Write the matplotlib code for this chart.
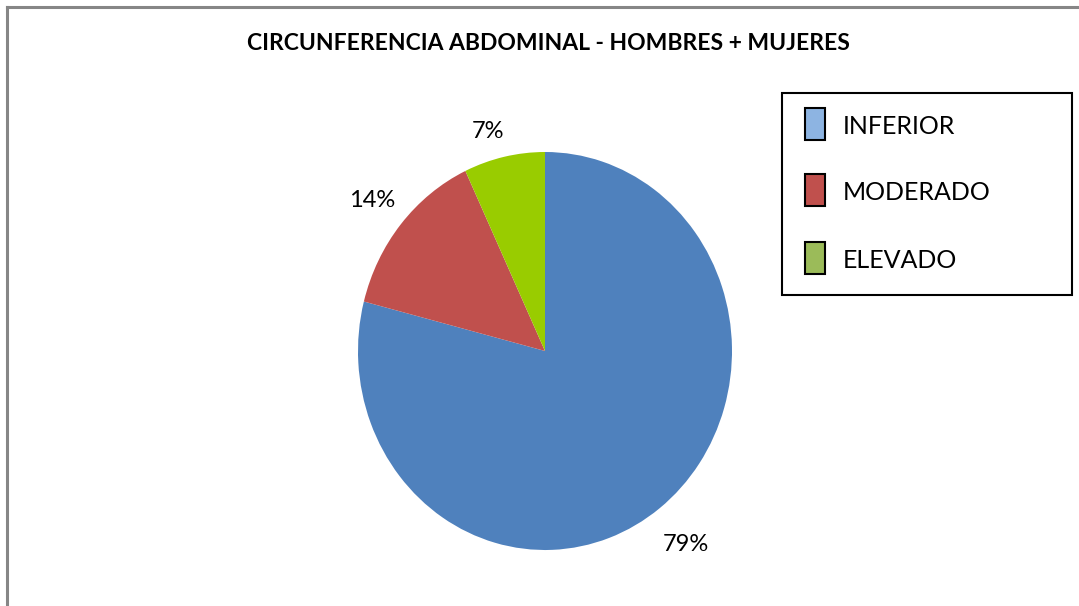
import numpy as np
import matplotlib.pyplot as plt
from matplotlib.patches import Rectangle
from matplotlib.lines import Line2D

# data
categorias = ['INFERIOR', 'MODERADO', 'ELEVADO']
porcentajes = [79, 14, 7]
colores_pie = ['#4F81BD', '#C0504D', '#99CC00']
colores_leyenda = ['#8DB4E2', '#C0504D', '#9BBB59']
titulo = 'CIRCUNFERENCIA ABDOMINAL - HOMBRES + MUJERES'

plt.rcParams['font.family'] = ['Lato', 'DejaVu Sans']

W, H = 1079, 606
fig = plt.figure(figsize=(W / 100, H / 100), dpi=100)
fig.patch.set_facecolor('white')

# pie axes (pixel box of the pie, slightly elliptical like the original)
px0, px1, py0, py1 = 358, 732, 152, 550
ax = fig.add_axes([px0 / W, (H - py1) / H, (px1 - px0) / W, (py1 - py0) / H])
wedges, textos, pcts = ax.pie(porcentajes, colors=colores_pie, startangle=90,
                              counterclock=False, autopct='%1.0f%%',
                              pctdistance=1.2, wedgeprops=dict(linewidth=0),
                              textprops=dict(fontsize=17, color='black'))
# put the % labels roughly where excel places them
radios = [1.23, 1.19, 1.13]
desp_x = [0.0, -0.01, -0.06]
for w, t, r, dx in zip(wedges, pcts, radios, desp_x):
    ang = np.deg2rad((w.theta1 + w.theta2) / 2)
    t.set_position((r * np.cos(ang) + dx, r * np.sin(ang)))
ax.set_aspect('auto')
ax.set_xlim(-1, 1)
ax.set_ylim(-1, 1)
ax.axis('off')

# title
fig.text(548 / W, 1 - 43 / H, titulo, ha='center', va='center',
         fontsize=16.5, fontweight='bold')

# outer frame (only left and top visible)
fig.add_artist(Line2D([7 / W, 7 / W], [0, 1 - 7 / H], color='#868686', lw=2.2))
fig.add_artist(Line2D([7 / W, 1], [1 - 7 / H, 1 - 7 / H], color='#868686', lw=2.2))

# legend box
lx0, ly0, lx1, ly1 = 782, 93, 1072, 295
fig.add_artist(Rectangle((lx0 / W, 1 - ly1 / H), (lx1 - lx0) / W, (ly1 - ly0) / H,
                         facecolor='white', edgecolor='black', lw=1.5))
filas = [124, 190, 258]
for nombre, color, yc in zip(categorias, colores_leyenda, filas):
    fig.add_artist(Rectangle((805 / W, 1 - (yc + 16) / H), 20 / W, 32 / H,
                             facecolor=color, edgecolor='black', lw=1.5))
    fig.text(843 / W, 1 - (yc + 2) / H, nombre, ha='left', va='center', fontsize=18)

fig.savefig('out.png', dpi=100)
